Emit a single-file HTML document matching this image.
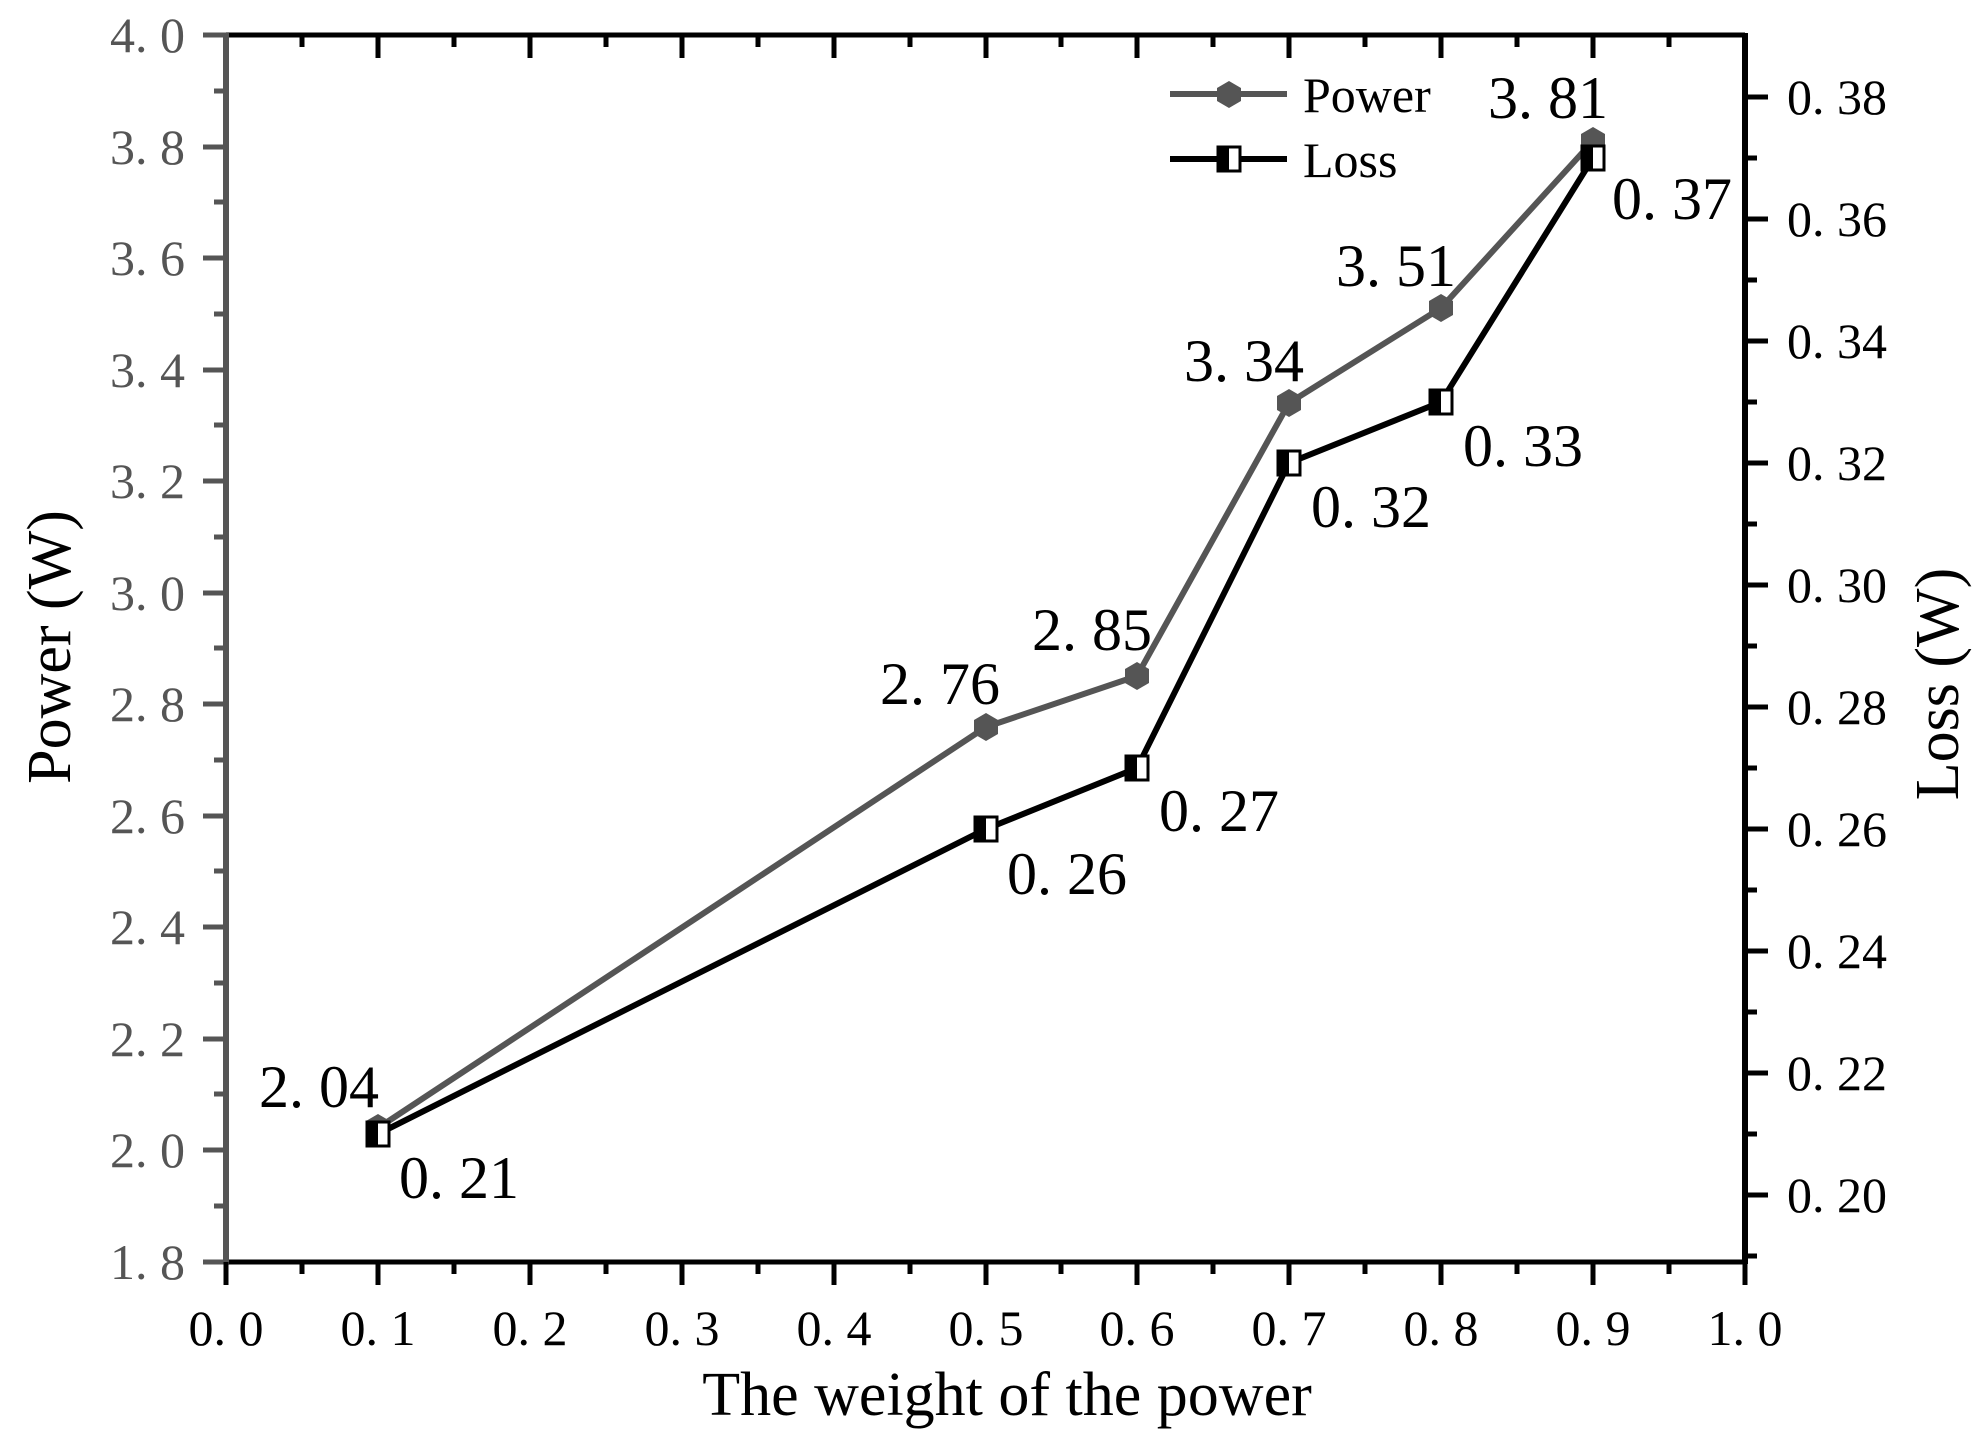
<!DOCTYPE html>
<html><head><meta charset="utf-8"><style>
html,body{margin:0;padding:0;background:#fff;}
svg{display:block;font-family:"Liberation Serif",serif;}
</style></head><body>
<svg width="1987" height="1445" viewBox="0 0 1987 1445" xmlns="http://www.w3.org/2000/svg">
<rect width="1987" height="1445" fill="#fff"/>
<line x1="226" y1="35" x2="1745" y2="35" stroke="#000" stroke-width="5"/>
<line x1="226" y1="1262" x2="1745" y2="1262" stroke="#000" stroke-width="5"/>
<line x1="226" y1="33" x2="226" y2="1264" stroke="#555" stroke-width="6"/>
<line x1="1745" y1="33" x2="1745" y2="1264" stroke="#000" stroke-width="6"/>
<g stroke="#555" stroke-width="5">
<line x1="203" x2="226" y1="35" y2="35"/><line x1="203" x2="226" y1="147" y2="147"/><line x1="203" x2="226" y1="258" y2="258"/><line x1="203" x2="226" y1="370" y2="370"/><line x1="203" x2="226" y1="481" y2="481"/><line x1="203" x2="226" y1="593" y2="593"/><line x1="203" x2="226" y1="704" y2="704"/><line x1="203" x2="226" y1="816" y2="816"/><line x1="203" x2="226" y1="927" y2="927"/><line x1="203" x2="226" y1="1039" y2="1039"/><line x1="203" x2="226" y1="1150" y2="1150"/><line x1="203" x2="226" y1="1262" y2="1262"/>
<line x1="214" x2="226" y1="91" y2="91"/><line x1="214" x2="226" y1="202" y2="202"/><line x1="214" x2="226" y1="314" y2="314"/><line x1="214" x2="226" y1="425" y2="425"/><line x1="214" x2="226" y1="537" y2="537"/><line x1="214" x2="226" y1="648" y2="648"/><line x1="214" x2="226" y1="760" y2="760"/><line x1="214" x2="226" y1="871" y2="871"/><line x1="214" x2="226" y1="983" y2="983"/><line x1="214" x2="226" y1="1094" y2="1094"/><line x1="214" x2="226" y1="1206" y2="1206"/>
</g>
<g stroke="#000" stroke-width="5">
<line x1="1745" x2="1768" y1="97" y2="97"/><line x1="1745" x2="1768" y1="219" y2="219"/><line x1="1745" x2="1768" y1="341" y2="341"/><line x1="1745" x2="1768" y1="463" y2="463"/><line x1="1745" x2="1768" y1="585" y2="585"/><line x1="1745" x2="1768" y1="707" y2="707"/><line x1="1745" x2="1768" y1="829" y2="829"/><line x1="1745" x2="1768" y1="951" y2="951"/><line x1="1745" x2="1768" y1="1073" y2="1073"/><line x1="1745" x2="1768" y1="1195" y2="1195"/>
<line x1="1745" x2="1757" y1="158" y2="158"/><line x1="1745" x2="1757" y1="280" y2="280"/><line x1="1745" x2="1757" y1="402" y2="402"/><line x1="1745" x2="1757" y1="524" y2="524"/><line x1="1745" x2="1757" y1="646" y2="646"/><line x1="1745" x2="1757" y1="768" y2="768"/><line x1="1745" x2="1757" y1="890" y2="890"/><line x1="1745" x2="1757" y1="1012" y2="1012"/><line x1="1745" x2="1757" y1="1134" y2="1134"/><line x1="1745" x2="1757" y1="1256" y2="1256"/>
<line y1="1262" y2="1285" x1="226" x2="226"/><line y1="1262" y2="1285" x1="378" x2="378"/><line y1="1262" y2="1285" x1="530" x2="530"/><line y1="1262" y2="1285" x1="682" x2="682"/><line y1="1262" y2="1285" x1="834" x2="834"/><line y1="1262" y2="1285" x1="986" x2="986"/><line y1="1262" y2="1285" x1="1137" x2="1137"/><line y1="1262" y2="1285" x1="1289" x2="1289"/><line y1="1262" y2="1285" x1="1441" x2="1441"/><line y1="1262" y2="1285" x1="1593" x2="1593"/><line y1="1262" y2="1285" x1="1745" x2="1745"/>
<line y1="1262" y2="1274" x1="302" x2="302"/><line y1="1262" y2="1274" x1="454" x2="454"/><line y1="1262" y2="1274" x1="606" x2="606"/><line y1="1262" y2="1274" x1="758" x2="758"/><line y1="1262" y2="1274" x1="910" x2="910"/><line y1="1262" y2="1274" x1="1061" x2="1061"/><line y1="1262" y2="1274" x1="1213" x2="1213"/><line y1="1262" y2="1274" x1="1365" x2="1365"/><line y1="1262" y2="1274" x1="1517" x2="1517"/><line y1="1262" y2="1274" x1="1669" x2="1669"/>
<line y1="35" y2="58" x1="378" x2="378"/><line y1="35" y2="58" x1="530" x2="530"/><line y1="35" y2="58" x1="682" x2="682"/><line y1="35" y2="58" x1="834" x2="834"/><line y1="35" y2="58" x1="986" x2="986"/><line y1="35" y2="58" x1="1137" x2="1137"/><line y1="35" y2="58" x1="1289" x2="1289"/><line y1="35" y2="58" x1="1441" x2="1441"/><line y1="35" y2="58" x1="1593" x2="1593"/>
<line y1="35" y2="47" x1="302" x2="302"/><line y1="35" y2="47" x1="454" x2="454"/><line y1="35" y2="47" x1="606" x2="606"/><line y1="35" y2="47" x1="758" x2="758"/><line y1="35" y2="47" x1="910" x2="910"/><line y1="35" y2="47" x1="1061" x2="1061"/><line y1="35" y2="47" x1="1213" x2="1213"/><line y1="35" y2="47" x1="1365" x2="1365"/><line y1="35" y2="47" x1="1517" x2="1517"/><line y1="35" y2="47" x1="1669" x2="1669"/>
</g>
<g fill="#555" font-size="50" text-anchor="end">
<text x="185" y="52">4. 0</text><text x="185" y="164">3. 8</text><text x="185" y="275">3. 6</text><text x="185" y="387">3. 4</text><text x="185" y="498">3. 2</text><text x="185" y="610">3. 0</text><text x="185" y="721">2. 8</text><text x="185" y="833">2. 6</text><text x="185" y="944">2. 4</text><text x="185" y="1056">2. 2</text><text x="185" y="1167">2. 0</text><text x="185" y="1279">1. 8</text>
</g>
<g fill="#000" font-size="50" text-anchor="start">
<text x="1787" y="114">0. 38</text><text x="1787" y="236">0. 36</text><text x="1787" y="358">0. 34</text><text x="1787" y="480">0. 32</text><text x="1787" y="602">0. 30</text><text x="1787" y="724">0. 28</text><text x="1787" y="846">0. 26</text><text x="1787" y="968">0. 24</text><text x="1787" y="1090">0. 22</text><text x="1787" y="1212">0. 20</text>
</g>
<g fill="#000" font-size="50" text-anchor="middle">
<text x="226" y="1345">0. 0</text><text x="378" y="1345">0. 1</text><text x="530" y="1345">0. 2</text><text x="682" y="1345">0. 3</text><text x="834" y="1345">0. 4</text><text x="986" y="1345">0. 5</text><text x="1137" y="1345">0. 6</text><text x="1289" y="1345">0. 7</text><text x="1441" y="1345">0. 8</text><text x="1593" y="1345">0. 9</text><text x="1745" y="1345">1. 0</text>
</g>
<text x="1007" y="1415" font-size="62" text-anchor="middle" fill="#000">The weight of the power</text>
<text transform="translate(70,647) rotate(-90)" font-size="62" text-anchor="middle" fill="#000">Power (W)</text>
<text transform="translate(1958,684) rotate(-90)" font-size="62" text-anchor="middle" fill="#000">Loss (W)</text>
<polyline points="378,1128 986,727 1137,676 1289,403 1441,308 1593,141" fill="none" stroke="#555" stroke-width="6"/>
<polyline points="378,1134 986,829 1137,768 1289,463 1441,402 1593,158" fill="none" stroke="#000" stroke-width="6"/>
<g fill="#555">
<polygon points="378,1114 390,1121 390,1135 378,1142 366,1135 366,1121"/>
<polygon points="986,713 998,720 998,734 986,741 974,734 974,720"/>
<polygon points="1137,662 1149,669 1149,683 1137,690 1125,683 1125,669"/>
<polygon points="1289,389 1301,396 1301,410 1289,417 1277,410 1277,396"/>
<polygon points="1441,294 1453,301 1453,315 1441,322 1429,315 1429,301"/>
<polygon points="1593,127 1605,134 1605,148 1593,155 1581,148 1581,134"/>
</g>
<g>
<g transform="translate(378,1134)"><rect x="-11" y="-12" width="22" height="24" fill="#fff" stroke="#000" stroke-width="3"/><rect x="-11" y="-12" width="11" height="24" fill="#000"/></g>
<g transform="translate(986,829)"><rect x="-11" y="-12" width="22" height="24" fill="#fff" stroke="#000" stroke-width="3"/><rect x="-11" y="-12" width="11" height="24" fill="#000"/></g>
<g transform="translate(1137,768)"><rect x="-11" y="-12" width="22" height="24" fill="#fff" stroke="#000" stroke-width="3"/><rect x="-11" y="-12" width="11" height="24" fill="#000"/></g>
<g transform="translate(1289,463)"><rect x="-11" y="-12" width="22" height="24" fill="#fff" stroke="#000" stroke-width="3"/><rect x="-11" y="-12" width="11" height="24" fill="#000"/></g>
<g transform="translate(1441,402)"><rect x="-11" y="-12" width="22" height="24" fill="#fff" stroke="#000" stroke-width="3"/><rect x="-11" y="-12" width="11" height="24" fill="#000"/></g>
<g transform="translate(1593,158)"><rect x="-11" y="-12" width="22" height="24" fill="#fff" stroke="#000" stroke-width="3"/><rect x="-11" y="-12" width="11" height="24" fill="#000"/></g>
</g>
<g fill="#000" font-size="60" text-anchor="middle">
<text x="319" y="1107">2. 04</text><text x="459" y="1198">0. 21</text>
<text x="940" y="704">2. 76</text><text x="1067" y="894">0. 26</text>
<text x="1092" y="650">2. 85</text><text x="1219" y="831">0. 27</text>
<text x="1244" y="381">3. 34</text><text x="1371" y="527">0. 32</text>
<text x="1396" y="286">3. 51</text><text x="1523" y="466">0. 33</text>
<text x="1548" y="118">3. 81</text><text x="1672" y="219">0. 37</text>
</g>
<line x1="1170" y1="94" x2="1287" y2="94" stroke="#555" stroke-width="6"/>
<polygon points="1229,81 1241,88 1241,101 1229,108 1217,101 1217,88" fill="#555"/>
<text x="1303" y="112" font-size="50" fill="#000">Power</text>
<line x1="1170" y1="159" x2="1287" y2="159" stroke="#000" stroke-width="6"/>
<rect x="1218" y="147" width="22" height="24" fill="#fff" stroke="#000" stroke-width="3"/><rect x="1218" y="147" width="11" height="24" fill="#000"/>
<text x="1303" y="177" font-size="50" fill="#000">Loss</text>
</svg>
</body></html>
